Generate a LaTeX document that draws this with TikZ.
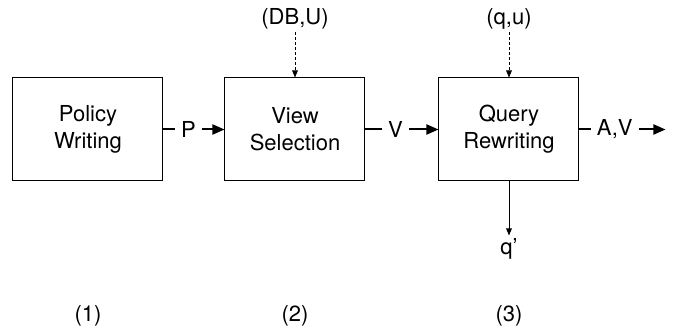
\documentclass[tikz,border=0pt]{standalone}
\usepackage{fontspec}
\setmainfont{TeX Gyre Heros}
\usetikzlibrary{arrows.meta, positioning}

\begin{document}
\begin{tikzpicture}[x=0.5pt, y=-0.5pt]
	\tikzset{>={Triangle[length=6pt, width=5pt]}, every node/.style={font=\fontsize{11}{13.5}\selectfont},
		block/.style={draw, line width=0.5pt, minimum height=51.5pt, align=center, inner sep=0pt},
		lbl/.style={inner sep=1.5pt},
		flow/.style={->, line width=1pt},
		tag/.style={fill=white, inner sep=3pt, pos=0.41},
		feed/.style={-{Triangle[length=3.5pt, width=2.8pt]}, line width=0.45pt}}
	\useasboundingbox (0,0) rectangle (677,331);

	\node[block, minimum width=75pt] (pw) at (88,129.5) {Policy\\Writing};
	\node[block, minimum width=70pt, right=30.5pt of pw] (vs) {View\\Selection};
	\node[block, minimum width=70pt, right=36.5pt of vs] (qr) {Query\\Rewriting};
	\coordinate[right=43pt of qr] (out);

	\node[lbl, above=22.5pt of vs] (dbu) {(DB,U)};
	\node[lbl, above=22.5pt of qr] (qu) {(q,u)};
	\node[lbl, below=27pt of qr] (qp) {q'};

	\node[lbl, below=60.5pt of pw] (n1) {(1)};
	\node[lbl, below=60.5pt of vs] (n2) {(2)};
	\node[lbl, below=60.5pt of qr] (n3) {(3)};

	\draw[flow] (pw) -- node[tag] {P} (vs);
	\draw[flow] (vs) -- node[tag] {V} (qr);
	\draw[flow] (qr) -- node[tag] {A,V} (out);

	\draw[feed, dash pattern=on 1.5pt off 1pt] (dbu) -- (vs);
	\draw[feed, dash pattern=on 1.5pt off 1pt] (qu) -- (qr);
	\draw[feed] (qr) -- (qp);
\end{tikzpicture}
\end{document}
